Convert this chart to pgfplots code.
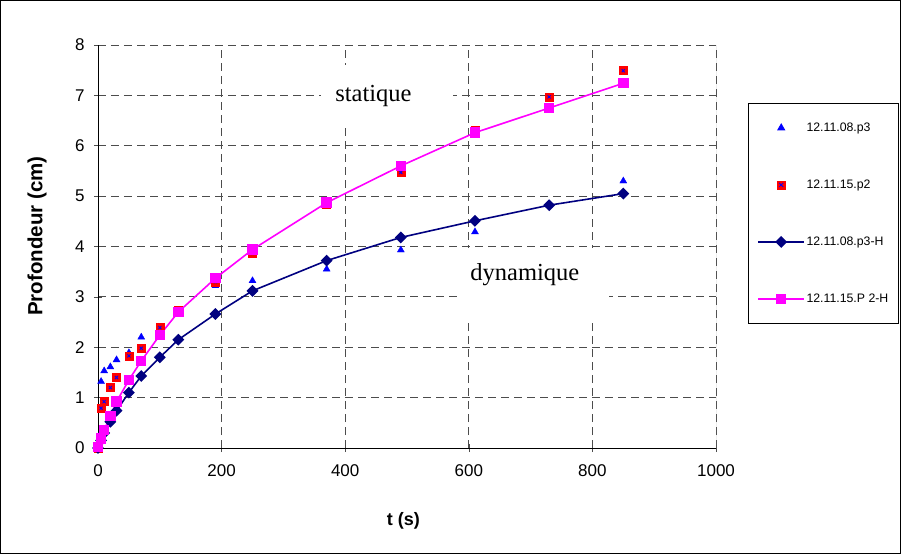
\documentclass[border=0pt]{standalone}
\usepackage{fontspec}
\setmainfont{Liberation Sans}
\newfontfamily\seriffont{Liberation Serif}
\usepackage{pgfplots}
\pgfplotsset{compat=1.18}
\definecolor{navy}{RGB}{0,0,128}
\definecolor{mag}{RGB}{255,0,255}
\begin{document}
\begin{tikzpicture}[x=1pt,y=1pt]
\fill[white] (-98,-106) rectangle (803,448);
\draw[black,line width=1pt] (-97,-105) rectangle (802,447);
\begin{axis}[
  at={(0,0)}, anchor=origin,
  scale only axis, width=618pt, height=403pt,
  xmin=0, xmax=1000, ymin=0, ymax=8,
  xtick={0,200,...,1000}, ytick={0,1,...,8},
  axis x line*=bottom, axis y line*=left,
  axis line style={black, line width=0.8pt, -},
  tick align=center, major tick length=8pt,
  tick style={black!70, line width=0.6pt},
  grid=major,
  major grid style={black!70, dash pattern=on 8pt off 5pt, line width=0.8pt},
  /pgf/number format/assume math mode=true,
  /pgf/number format/1000 sep={},
  ticklabel style={font=\fontsize{17}{20}\selectfont},
  xticklabel style={yshift=-9pt},
  yticklabel style={xshift=-6pt},
  xlabel={\textbf{t (s)}},
  ylabel={\textbf{Profondeur (cm)}},
  xlabel style={font=\fontsize{18}{21}\selectfont, at={(axis description cs:0.494,-0.1814)}, anchor=center},
  ylabel style={font=\fontsize{20.5}{24}\selectfont, at={(axis description cs:-0.0987,0.526)}, anchor=center, rotate=0},
  legend style={at={(axis description cs:1.0518,0.856)}, anchor=north west,
    draw=black, line width=0.8pt, inner xsep=9pt, inner ysep=17.5pt,
    font=\fontsize{12.3}{15}\selectfont, row sep=43pt,
    nodes={inner sep=1.5pt, text height=9pt, text depth=2pt}},
  legend cell align=left,
  legend image code/.code={\draw[mark repeat=2,mark phase=2,#1] plot coordinates {(0pt,0pt) (23pt,0pt) (46pt,0pt)};},
]
\addplot[only marks, mark=triangle*, mark size=4pt, color=blue] coordinates {
(0,0) (5,1.32) (10,1.53) (20,1.61) (30,1.75) (50,1.89) (70,2.20) (100,2.38)
(130,2.72) (190,3.22) (250,3.32) (370,3.55) (490,3.93) (610,4.29) (730,4.82) (850,5.30)};
\addlegendentry{12.11.08.p3}
\addplot[only marks, mark=square*, mark size=4pt, color=red,
  mark options={fill=red, draw=red},
  legend image code/.code={\draw[red,fill=red] (19pt,-4pt) rectangle (27pt,4pt); \draw[blue,line width=0.8pt] (21pt,-2pt)--(25pt,2pt) (21pt,2pt)--(25pt,-2pt);}] coordinates {
(0,0) (5,0.79) (10,0.92) (20,1.20) (30,1.40) (50,1.83) (70,1.98) (100,2.39)
(130,2.74) (190,3.30) (250,3.86) (370,4.84) (490,5.47) (610,6.31) (730,6.97) (850,7.49)};
\addlegendentry{12.11.15.p2}
\addplot[forget plot, only marks, mark=x, mark size=2.2pt, color=blue, line width=0.9pt] coordinates {
(0,0) (5,0.79) (10,0.92) (20,1.20) (30,1.40) (50,1.83) (70,1.98) (100,2.39)
(130,2.74) (190,3.30) (250,3.86) (370,4.84) (490,5.47) (610,6.31) (730,6.97) (850,7.49)};
\addplot[navy, line width=1.6pt, mark=square*, mark size=3.4pt, mark options={rotate=45, fill=navy, draw=navy}] coordinates {
(0,0) (5,0.15) (10,0.30) (20,0.52) (30,0.74) (50,1.10) (70,1.43) (100,1.80)
(130,2.15) (190,2.66) (250,3.12) (370,3.72) (490,4.18) (610,4.51) (730,4.82) (850,5.05)};
\addlegendentry{12.11.08.p3-H}
\addplot[mag, line width=1.6pt, mark=square*, mark size=4.4pt, mark options={fill=mag, draw=mag}] coordinates {
(0,0.02) (5,0.19) (10,0.36) (20,0.63) (30,0.92) (50,1.35) (70,1.73) (100,2.24)
(130,2.70) (190,3.37) (250,3.94) (370,4.87) (490,5.60) (610,6.26) (730,6.75) (850,7.24)};
\addlegendentry{12.11.15.P 2-H}
\fill[white] (axis cs:361,6.4) rectangle (axis cs:574,7.6);
\node[anchor=base west, inner sep=0pt, font=\seriffont\fontsize{24.5}{28}\selectfont] at (axis cs:383.8,6.875) {statique};
\fill[white] (axis cs:583,2.53) rectangle (axis cs:827,3.97);
\node[anchor=base west, inner sep=0pt, font=\seriffont\fontsize{24.5}{28}\selectfont] at (axis cs:602.4,3.335) {dynamique};
\draw[black!50, line width=0.8pt] (rel axis cs:1,0) -- (rel axis cs:1,1);
\end{axis}
\end{tikzpicture}
\end{document}
